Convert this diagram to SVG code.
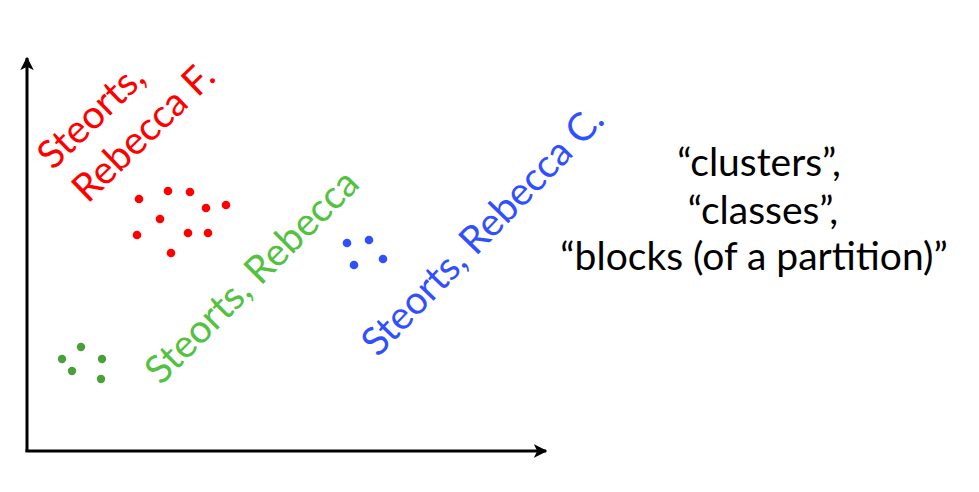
<svg xmlns="http://www.w3.org/2000/svg" width="979" height="492" viewBox="0 0 979 492">
<style>
text{font-family:"Lato","Open Sans","DejaVu Sans",sans-serif;font-size:39px}
.red{fill:#ff0000}
.green{fill:#52c23f}
.gdot{fill:#4a9f38}
.blue{fill:#3050ff}
.blk{fill:#000}
.axis{stroke:#000;stroke-width:3;fill:none}
</style>
<defs>
<marker id="arr" viewBox="0 0 10 10" refX="9" refY="5" markerWidth="4.5" markerHeight="4.5" orient="auto" markerUnits="strokeWidth">
<path d="M0,0 L10,5 L0,10 L2.5,5 Z" fill="#000"/>
</marker>
</defs>
<g id="connectors">
<path class="axis" d="M27,452 L27,58" marker-end="url(#arr)"/>
<path class="axis" d="M25.5,451 L546,451" marker-end="url(#arr)"/>
</g>
<g id="red-cluster">
<g class="red">
<circle cx="139" cy="199" r="4.3"/><circle cx="168" cy="191" r="4.3"/><circle cx="190" cy="192" r="4.3"/>
<circle cx="206" cy="208" r="4.3"/><circle cx="226" cy="205" r="4.3"/><circle cx="160" cy="219" r="4.3"/>
<circle cx="137" cy="235" r="4.3"/><circle cx="188" cy="233" r="4.3"/><circle cx="208" cy="233" r="4.3"/>
<circle cx="171" cy="253" r="4.3"/>
</g>
<text class="red" transform="translate(53,171) rotate(-44)"><tspan x="0" y="0">Steorts,</tspan><tspan x="2" y="48">Rebecca F.</tspan></text>
</g>
<g id="green-cluster">
<g class="gdot">
<circle cx="62" cy="359" r="4.2"/><circle cx="81" cy="347" r="4.2"/><circle cx="102" cy="359" r="4.2"/>
<circle cx="72" cy="371" r="4.2"/><circle cx="101" cy="379" r="4.2"/>
</g>
<text class="green" transform="translate(161,386) rotate(-45)">Steorts, Rebecca</text>
</g>
<g id="blue-cluster">
<g class="blue">
<circle cx="347" cy="243" r="4.3"/><circle cx="369" cy="240" r="4.3"/><circle cx="354" cy="265" r="4.3"/><circle cx="383" cy="259" r="4.3"/>
</g>
<text class="blue" transform="translate(378,358) rotate(-46)">Steorts, Rebecca C.</text>
</g>
<g id="caption" class="blk" text-anchor="middle">
<text x="759" y="176">“clusters”,</text>
<text x="763" y="224">“classes”,</text>
<text x="754" y="270">“blocks (of a partition)”</text>
</g>
</svg>
